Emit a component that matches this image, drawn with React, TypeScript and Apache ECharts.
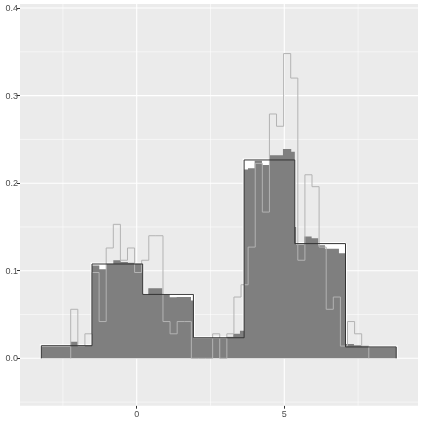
import React, { useEffect, useRef } from "react";
import * as echarts from "echarts";

// Coarse histogram (black step outline), 7 equal bins
const coarseStart = -3.231;
const coarseWidth = 1.7174;
const coarseDensity = [0.0144, 0.1077, 0.073, 0.0235, 0.2265, 0.131, 0.013];

// Fine histogram (light grey step outline), 42 equal bins
const fineStart = -2.235;
const fineWidth = 0.2404;
const fineDensity = [
  0.056, 0.014, 0.028, 0.098, 0.042, 0.126, 0.153, 0.112, 0.126, 0.098,
  0.112, 0.14, 0.14, 0.042, 0.028, 0.042, 0.042, 0, 0, 0,
  0.028, 0, 0.028, 0.07, 0.084, 0.127, 0.2226, 0.167, 0.279, 0.265,
  0.348, 0.32, 0.112, 0.2096, 0.196, 0.127, 0.056, 0.07, 0.014, 0.042,
  0.028, 0.014,
];

// Filled (averaged) histogram: bin edges and densities
const fillEdges = [
  -3.231, -2.235, -1.998, -1.514, -1.267, -1.033, -0.792, -0.542, -0.298, -0.058,
  0.204, 0.393, 0.867, 1.118, 1.355, 1.839, 1.921, 3.048, 3.271, 3.498,
  3.638, 3.769, 3.996, 4.243, 4.504, 4.954, 5.235, 5.356, 5.4, 5.676,
  5.926, 6.15, 6.377, 6.851, 7.074, 7.359, 7.596, 7.843, 8.791,
];
const fillDensity = [
  0.0135, 0.019, 0.0145, 0.106, 0.1016, 0.108, 0.112, 0.11, 0.109, 0.108,
  0.073, 0.08, 0.073, 0.0696, 0.07, 0.066, 0.0228, 0.0247, 0.028, 0.0315,
  0.2157, 0.217, 0.2256, 0.2207, 0.232, 0.239, 0.236, 0.15, 0.13, 0.139,
  0.137, 0.129, 0.125, 0.12, 0.0163, 0.015, 0.014, 0.0126,
];

// Axis ticks and gridlines
const xBreaks = [0, 5];
const xMinorBreaks = [-2.5, 2.5, 7.5];
const yBreaks = [0, 0.1, 0.2, 0.3, 0.4];
const yMinorBreaks = [-0.05, 0.05, 0.15, 0.25, 0.35];

const X_MIN = -3.953;
const X_MAX = 9.529;
const Y_MIN = -0.0541;
const Y_MAX = 0.4046;

function equalBins(start: number, width: number, vals: number[]) {
  return vals.map((v, i) => [start + i * width, start + (i + 1) * width, v]);
}

function edgeBins(edges: number[], vals: number[]) {
  return vals.map((v, i) => [edges[i], edges[i + 1], v]);
}

// step data: [x0, x1, y, prevY, isLast]
function stepBins(start: number, width: number, vals: number[]) {
  return vals.map((v, i) => [
    start + i * width,
    start + (i + 1) * width,
    v,
    i === 0 ? 0 : vals[i - 1],
    i === vals.length - 1 ? 1 : 0,
  ]);
}

function rectSeries(name: string, data: number[][], style: any, z: number) {
  return {
    type: "custom",
    name,
    z,
    silent: true,
    encode: { x: [0, 1], y: 2 },
    data,
    renderItem: (params: any, api: any) => {
      const p0 = api.coord([api.value(0), api.value(2)]);
      const p1 = api.coord([api.value(1), 0]);
      return {
        type: "rect",
        shape: { x: p0[0], y: p0[1], width: p1[0] - p0[0], height: p1[1] - p0[1] },
        style,
      };
    },
  };
}

// one filled polygon over all bins (avoids seams between adjacent bars)
function areaSeries(name: string, data: number[][], style: any, z: number) {
  return {
    type: "custom",
    name,
    z,
    silent: true,
    encode: { x: [0, 1], y: 2 },
    data,
    renderItem: (params: any, api: any) => {
      if (params.dataIndex !== 0) return null;
      const pts: number[][] = [api.coord([data[0][0], 0])];
      data.forEach((d) => {
        pts.push(api.coord([d[0], d[2]]));
        pts.push(api.coord([d[1], d[2]]));
      });
      pts.push(api.coord([data[data.length - 1][1], 0]));
      return { type: "polygon", shape: { points: pts }, style };
    },
  };
}

function stepSeries(name: string, data: number[][], style: any, z: number) {
  return {
    type: "custom",
    name,
    z,
    silent: true,
    encode: { x: [0, 1], y: 2 },
    data,
    renderItem: (params: any, api: any) => {
      const x0 = api.value(0);
      const x1 = api.value(1);
      const y = api.value(2);
      const prev = api.value(3);
      const last = api.value(4);
      const pts = [api.coord([x0, prev]), api.coord([x0, y]), api.coord([x1, y])];
      if (last) pts.push(api.coord([x1, 0]));
      return {
        type: "polyline",
        shape: { points: pts },
        style: { fill: "none", lineJoin: "miter", ...style },
      };
    },
  };
}

export default function App() {
  const ref = useRef<HTMLDivElement>(null);

  useEffect(() => {
    if (!ref.current) return;
    const chart = echarts.init(ref.current, undefined, { renderer: "svg" });

    const gridData: number[][] = [
      ...xBreaks.map((v) => [0, v, 1]),
      ...xMinorBreaks.map((v) => [0, v, 0]),
      ...yBreaks.map((v) => [1, v, 1]),
      ...yMinorBreaks.map((v) => [1, v, 0]),
    ];

    const coarseRects = equalBins(coarseStart, coarseWidth, coarseDensity);
    const coarseSteps = stepBins(coarseStart, coarseWidth, coarseDensity);
    const fineSteps = stepBins(fineStart, fineWidth, fineDensity);
    const fillData = edgeBins(fillEdges, fillDensity);

    const labelFont = {
      color: "#4D4D4D",
      fontSize: 9,
      fontFamily: "Liberation Sans, Arial, sans-serif",
    };

    chart.setOption({
      animation: false,
      grid: {
        left: 20,
        right: 5,
        top: 4,
        bottom: 17.3,
        show: true,
        backgroundColor: "#EBEBEB",
        borderWidth: 0,
      },
      xAxis: {
        type: "value",
        min: X_MIN,
        max: X_MAX,
        axisLine: { show: false, onZero: false },
        splitLine: { show: false },
        axisTick: {
          show: true,
          customValues: xBreaks,
          length: 3,
          lineStyle: { color: "#333333", width: 1 },
        },
        axisLabel: {
          customValues: xBreaks,
          formatter: (v: number) => String(v),
          margin: 4,
          ...labelFont,
        },
      },
      yAxis: {
        type: "value",
        min: Y_MIN,
        max: Y_MAX,
        axisLine: { show: false, onZero: false },
        splitLine: { show: false },
        axisTick: {
          show: true,
          customValues: yBreaks,
          length: 3,
          lineStyle: { color: "#333333", width: 1 },
        },
        axisLabel: {
          customValues: yBreaks,
          formatter: (v: number) => v.toFixed(1),
          margin: 2,
          ...labelFont,
        },
      },
      series: [
        {
          type: "custom",
          name: "grid",
          z: 1,
          silent: true,
          data: gridData,
          encode: { x: 1 },
          renderItem: (params: any, api: any) => {
            const orient = api.value(0);
            const v = api.value(1);
            const major = api.value(2);
            const cs = params.coordSys;
            const style = { stroke: "#FFFFFF", lineWidth: major ? 1.1 : 0.55 };
            if (orient === 0) {
              const p = api.coord([v, 0]);
              return {
                type: "line",
                shape: { x1: p[0], y1: cs.y, x2: p[0], y2: cs.y + cs.height },
                style,
              };
            }
            const p = api.coord([0, v]);
            return {
              type: "line",
              shape: { x1: cs.x, y1: p[1], x2: cs.x + cs.width, y2: p[1] },
              style,
            };
          },
        },
        rectSeries("coarseUnder", coarseRects, { fill: "#FFFFFF" }, 2),
        stepSeries("coarseHalo", coarseSteps, { stroke: "#FFFFFF", lineWidth: 3 }, 2),
        areaSeries("fill", fillData, { fill: "#7F7F7F" }, 3),
        stepSeries("fine", fineSteps, { stroke: "#B3B3B3", lineWidth: 1 }, 4),
        stepSeries("coarse", coarseSteps, { stroke: "#333333", lineWidth: 1 }, 5),
      ],
    });

    return () => {
      chart.dispose();
    };
  }, []);

  return (
    <div
      ref={ref}
      style={{ position: "fixed", left: 0, top: 0, width: 423, height: 423 }}
    />
  );
}
